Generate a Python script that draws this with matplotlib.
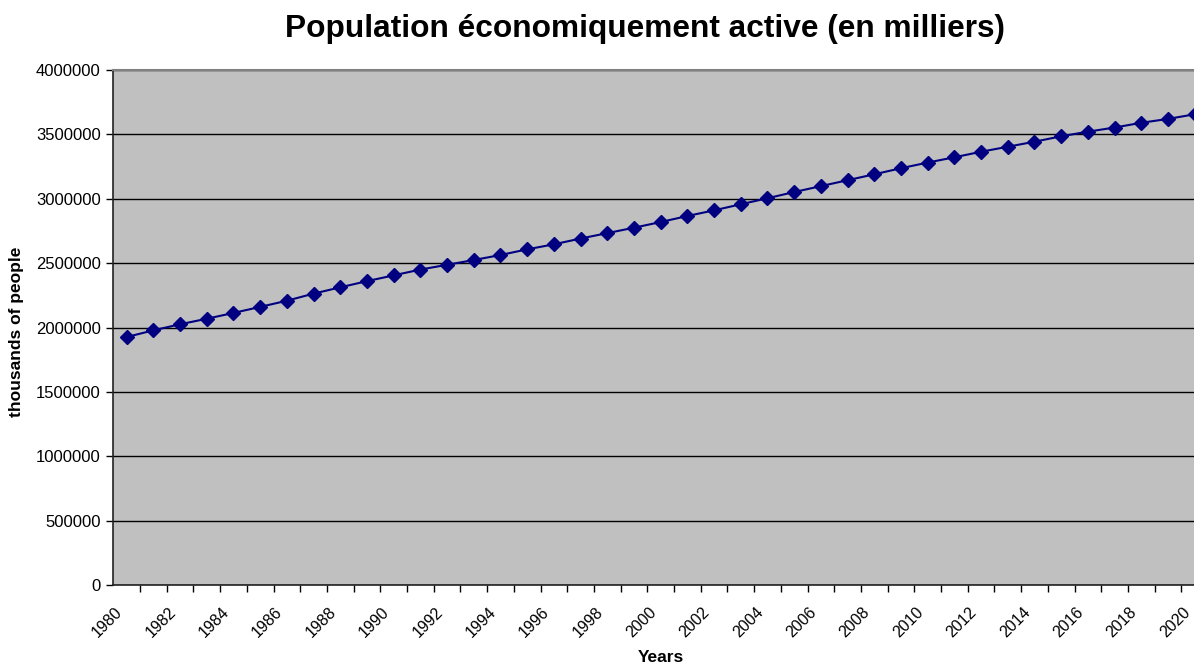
import numpy as np
import matplotlib.pyplot as plt
from matplotlib.ticker import FixedLocator, NullFormatter

plt.rcParams['font.family'] = ['Liberation Sans', 'DejaVu Sans']

years = list(range(1980, 2021))
active_pop = [1926000, 1978000, 2025000, 2068000, 2113000, 2160000, 2208000, 2263000,
              2312000, 2360000, 2405000, 2450000, 2487000, 2524000, 2563000, 2607000,
              2646000, 2691000, 2733000, 2775000, 2819000, 2866000, 2910000, 2957000,
              3004000, 3052000, 3098000, 3144000, 3190000, 3237000, 3281000, 3322000,
              3365000, 3404000, 3443000, 3485000, 3521000, 3553000, 3590000, 3620000,
              3656000]
y_ticks = [0, 500000, 1000000, 1500000, 2000000, 2500000, 3000000, 3500000, 4000000]

W, H = 1194, 667
fig = plt.figure(figsize=(W / 100, H / 100), dpi=100)
left, right, top, bottom = 113.3, 1208.0, 70.0, 585.0
ax = fig.add_axes([left / W, 1 - bottom / H, (right - left) / W, (bottom - top) / H])
ax.set_facecolor('#c0c0c0')

pos = np.arange(len(years))
ax.plot(pos, active_pop, color='#000080', linewidth=1.5, marker='D',
        markersize=7, zorder=3, clip_on=False)

ax.set_xlim(-0.5, len(years) - 0.5)
ax.set_ylim(0, 4000000)
ax.set_yticks(y_ticks)
ax.set_yticklabels([str(v) for v in y_ticks], fontsize=12)
ax.yaxis.grid(True, color='black', linewidth=1)
ax.set_axisbelow(True)

# category axis: ticks between categories, labels every other year
# (labels nudged a little left of the category centre, like Excel does)
cat_px = (right - left) / len(years)
nudge = -12 / cat_px
ax.xaxis.set_minor_locator(FixedLocator(pos[:-1] + 0.5))
ax.xaxis.set_minor_formatter(NullFormatter())
ax.set_xticks(pos[::2] + nudge)
ax.set_xticklabels([str(y) for y in years[::2]], rotation=45, ha='right',
                   va='top', rotation_mode='anchor', fontsize=11.5)
ax.tick_params(axis='x', which='major', length=0, pad=14)
ax.tick_params(axis='x', which='minor', length=5, width=1, direction='out')
ax.tick_params(axis='y', length=5, width=1, direction='out', pad=4)

for s in ['left', 'bottom']:
    ax.spines[s].set_color('#222222')
    ax.spines[s].set_linewidth(1.2)
ax.spines['top'].set_color('#808080')
ax.spines['top'].set_linewidth(1.5)
ax.spines['right'].set_visible(False)

fig.text(645 / W, 1 - 29 / H, 'Population économiquement active (en milliers)',
         ha='center', va='center', fontsize=22.8, fontweight='bold')
fig.text(661 / W, 1 - 658 / H, 'Years', ha='center', va='center',
         fontsize=12.5, fontweight='bold')
fig.text(17 / W, 1 - 332 / H, 'thousands of people', ha='center', va='center',
         rotation=90, fontsize=12.5, fontweight='bold')

fig.savefig('out.png', dpi=100)
